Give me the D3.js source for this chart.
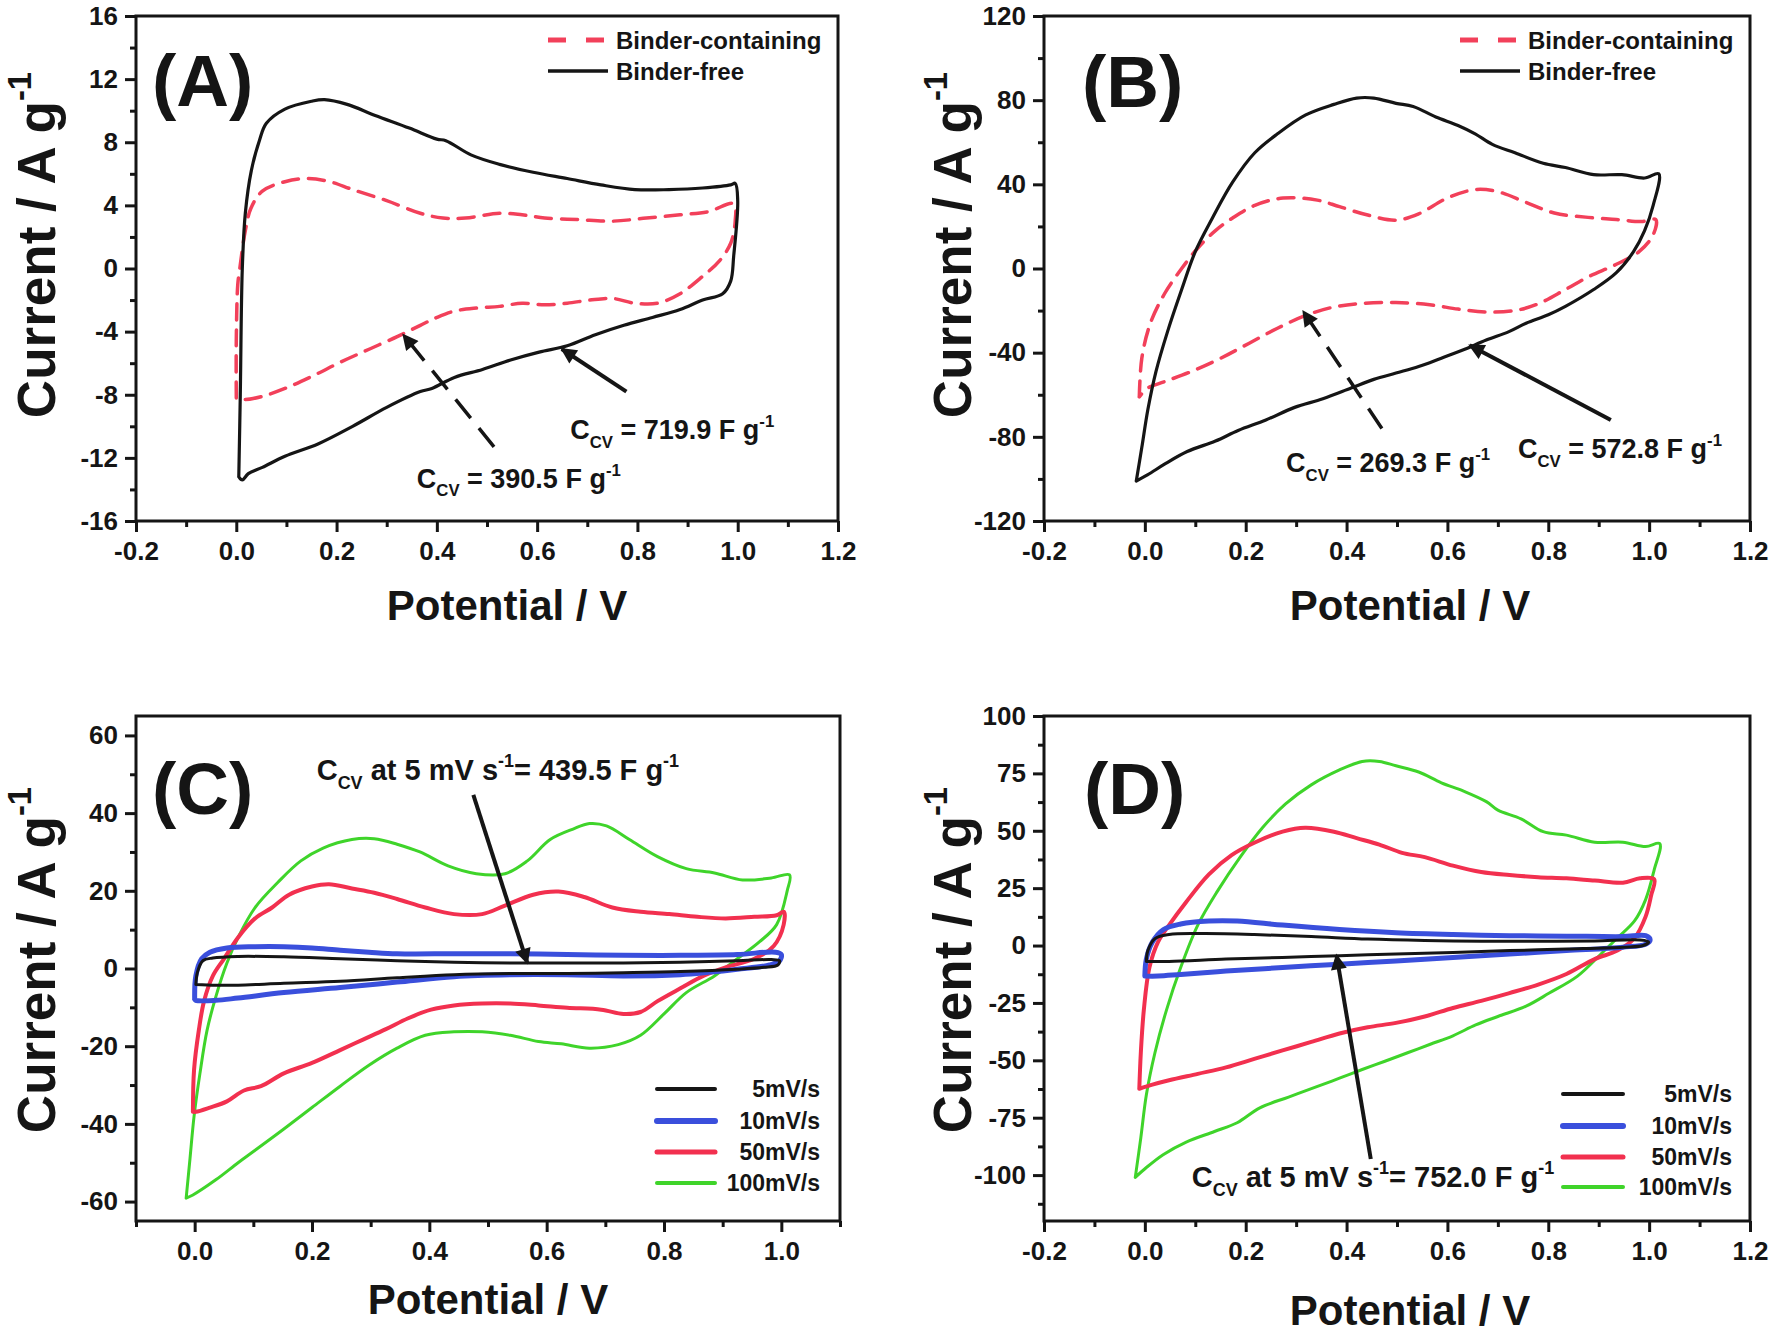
<!DOCTYPE html>
<html lang="en">
<head>
<meta charset="utf-8">
<title>CV curves</title>
<script src="https://d3js.org/d3.v7.min.js"></script>
<style>
  body { margin: 0; background: #fff; }
  svg text { font-family: "Liberation Sans", Arial, Helvetica, sans-serif; font-weight: bold; fill: #151515; }
  .frame { fill: none; stroke: #151515; stroke-width: 3; }
  .tick line { stroke: #151515; stroke-width: 3; }
  .domain { display: none; }
  .axis text { font-size: 26px; }
  .cv { fill: none; stroke-linejoin: round; stroke-linecap: round; }
</style>
</head>
<body>
<svg id="chart" width="1776" height="1338"></svg>
<script>
// ---- data: [potential (V), current (A/g)] ----
const aFree = [[0.005,-13.2],[0.008,-8],[0.012,0],[0.018,3.5],[0.03,6.2],[0.046,8.1],[0.06,9.2],[0.097,10.1],[0.15,10.6],[0.176,10.7],[0.221,10.4],[0.277,9.7],[0.345,8.9],[0.40,8.2],[0.418,8.1],[0.468,7.2],[0.525,6.6],[0.592,6.1],[0.66,5.7],[0.727,5.3],[0.795,5.0],[0.863,5.0],[0.93,5.1],[0.986,5.3],[0.995,5.4],[1.0,4.3],[0.992,0.8],[0.986,-0.8],[0.97,-1.6],[0.93,-2.0],[0.885,-2.6],[0.83,-3.1],[0.773,-3.6],[0.716,-4.2],[0.66,-4.9],[0.604,-5.3],[0.547,-5.8],[0.491,-6.4],[0.435,-6.9],[0.39,-7.6],[0.367,-7.8],[0.30,-8.8],[0.232,-10.0],[0.164,-11.1],[0.097,-11.9],[0.052,-12.6],[0.024,-13.0],[0.012,-13.4],[0.005,-13.2]];
const aBinder = [[0.0,-8.2],[0.0,-4.6],[0.003,-1],[0.007,0],[0.018,2.4],[0.029,3.8],[0.052,4.9],[0.097,5.5],[0.142,5.7],[0.187,5.5],[0.232,5.0],[0.30,4.3],[0.367,3.5],[0.412,3.2],[0.457,3.2],[0.525,3.5],[0.57,3.4],[0.615,3.2],[0.682,3.1],[0.75,3.0],[0.818,3.2],[0.885,3.4],[0.941,3.6],[0.992,4.1],[0.995,3.0],[0.986,1.6],[0.964,0.5],[0.93,-0.5],[0.885,-1.6],[0.84,-2.2],[0.795,-2.2],[0.75,-1.9],[0.705,-2.0],[0.66,-2.2],[0.615,-2.3],[0.57,-2.2],[0.525,-2.4],[0.48,-2.5],[0.435,-2.7],[0.40,-3.1],[0.367,-3.6],[0.322,-4.3],[0.266,-5.1],[0.21,-5.9],[0.153,-6.8],[0.097,-7.6],[0.052,-8.1],[0.018,-8.3],[0.0,-8.2]];

const bFree = [[-0.017,-101],[-0.006,-85],[0.006,-67],[0.022,-49],[0.045,-30],[0.073,-10],[0.10,8],[0.134,24],[0.174,41],[0.218,55],[0.263,64],[0.319,73],[0.375,78],[0.42,81],[0.454,81],[0.498,78.5],[0.532,77],[0.577,72],[0.621,68],[0.655,64],[0.689,59],[0.734,55],[0.79,50],[0.834,48],[0.89,44.6],[0.946,44.6],[0.991,43],[1.019,45],[1.008,30],[0.991,18],[0.969,8],[0.935,-2],[0.89,-10],[0.834,-18],[0.80,-22],[0.756,-26],[0.722,-30],[0.677,-34],[0.633,-38.5],[0.588,-42.6],[0.543,-46.6],[0.498,-49.7],[0.454,-52.7],[0.409,-56.8],[0.353,-61.9],[0.297,-66],[0.24,-72],[0.185,-77],[0.14,-82],[0.084,-87],[0.039,-93],[0.006,-98],[-0.017,-101]];
const bBinder = [[-0.011,-61],[-0.006,-42.6],[0.011,-26],[0.039,-12],[0.073,0],[0.106,10],[0.14,18],[0.174,24],[0.218,30],[0.274,33.5],[0.342,32.5],[0.386,29.4],[0.442,25.4],[0.498,23],[0.543,26],[0.60,33.5],[0.655,37.5],[0.70,36.5],[0.756,31.4],[0.812,26.4],[0.879,24.3],[0.935,23.3],[0.985,22.3],[1.013,23.3],[1.008,16],[0.98,8],[0.935,2],[0.879,-4],[0.834,-10],[0.778,-17],[0.733,-20],[0.677,-20.7],[0.621,-19.3],[0.565,-17.2],[0.498,-16.2],[0.431,-16.6],[0.375,-18.3],[0.319,-22.3],[0.263,-28.4],[0.207,-35.5],[0.151,-42.6],[0.095,-48.7],[0.039,-53.8],[0.006,-56.8],[-0.011,-61]];

const c5 = [[0.002,-4.1],[0.005,-0.8],[0.014,2.0],[0.031,2.7],[0.074,3.1],[0.152,3.0],[0.248,2.5],[0.345,2.0],[0.442,1.6],[0.538,1.4],[0.635,1.4],[0.731,1.4],[0.828,1.6],[0.925,2.0],[0.983,2.3],[0.997,2.0],[0.994,0.9],[0.97,0.3],[0.925,-0.2],[0.828,-0.8],[0.731,-1.1],[0.635,-1.3],[0.538,-1.3],[0.442,-1.6],[0.345,-2.4],[0.248,-3.3],[0.152,-3.8],[0.074,-4.3],[0.036,-4.3],[0.002,-4.1]];
const c10 = [[0.0,-7.9],[0.002,-1.9],[0.012,2.5],[0.026,4.2],[0.055,5.3],[0.103,5.6],[0.152,5.6],[0.20,5.3],[0.248,4.7],[0.297,4.2],[0.345,3.8],[0.442,3.8],[0.538,3.8],[0.635,3.6],[0.731,3.4],[0.828,3.4],[0.925,3.6],[0.99,4.2],[1.0,3.6],[0.997,2.0],[0.98,0.9],[0.925,-0.2],[0.876,-1.0],[0.828,-1.6],[0.731,-1.9],[0.635,-1.6],[0.538,-1.6],[0.442,-2.1],[0.345,-3.5],[0.248,-4.9],[0.152,-6.2],[0.074,-7.6],[0.036,-8.2],[0.002,-8.2],[0.0,-7.9]];
const c50 = [[-0.003,-36.9],[-0.001,-26],[0.007,-16],[0.016,-8.4],[0.031,-1.9],[0.05,2.5],[0.074,8],[0.103,12.9],[0.132,15.7],[0.161,19],[0.20,21.1],[0.229,21.7],[0.268,20.6],[0.306,19.5],[0.345,17.9],[0.393,15.7],[0.442,14],[0.49,14],[0.529,16.2],[0.577,19],[0.62,19.8],[0.664,18.4],[0.712,15.7],[0.76,14.6],[0.809,14],[0.857,13.3],[0.905,12.9],[0.954,13.3],[0.992,13.7],[1.004,14.6],[1.004,11.3],[0.987,5.8],[0.954,2.5],[0.905,0.3],[0.867,-1.9],[0.828,-5.1],[0.789,-8.4],[0.76,-11.2],[0.731,-11.7],[0.693,-10.6],[0.635,-10.1],[0.586,-9.5],[0.538,-9.0],[0.49,-9.0],[0.442,-9.5],[0.403,-10.6],[0.364,-12.8],[0.326,-15.6],[0.287,-18.3],[0.248,-21],[0.20,-24.3],[0.152,-27],[0.113,-30.3],[0.084,-31.4],[0.055,-34.2],[0.026,-35.8],[0.002,-36.9],[-0.003,-36.9]];
const c100 = [[-0.0145,-59.1],[-0.008,-49],[-0.001,-38],[0.009,-27],[0.021,-16],[0.036,-7.3],[0.055,1.4],[0.074,8],[0.103,15.7],[0.142,22.2],[0.181,27.7],[0.219,31],[0.268,33.2],[0.306,33.4],[0.345,32],[0.384,30],[0.432,26.4],[0.48,24.4],[0.529,24.4],[0.567,27.7],[0.606,33.2],[0.645,35.9],[0.673,37.3],[0.702,36.7],[0.741,33.2],[0.789,28.8],[0.838,25.7],[0.886,24.6],[0.934,22.8],[0.983,23.3],[1.014,24.1],[1.01,20],[0.992,11.3],[0.963,6.9],[0.925,2.5],[0.886,-1.9],[0.838,-6.2],[0.80,-11.7],[0.76,-17.2],[0.722,-19.6],[0.673,-20.5],[0.625,-19.4],[0.586,-18.8],[0.538,-17.2],[0.49,-16.3],[0.442,-16.3],[0.393,-17.2],[0.345,-20.5],[0.297,-24.9],[0.248,-30.3],[0.20,-35.8],[0.152,-41.3],[0.103,-46.8],[0.074,-50],[0.036,-54.4],[-0.003,-58.3],[-0.0145,-59.1]];

const d5 = [[0.003,-6.9],[0.006,-2.2],[0.02,3],[0.048,4.8],[0.116,5.2],[0.217,4.8],[0.33,3.9],[0.442,2.8],[0.555,2.2],[0.667,1.9],[0.78,1.9],[0.892,2.0],[0.982,2.4],[0.999,1.5],[0.988,0],[0.948,-0.7],[0.836,-1.5],[0.723,-2.2],[0.611,-3.0],[0.498,-3.7],[0.386,-4.4],[0.273,-5.2],[0.161,-5.9],[0.048,-6.9],[0.003,-6.9]];
const d10 = [[0.0,-13.3],[0.003,-5.9],[0.015,1.5],[0.037,7],[0.071,9.4],[0.127,10.7],[0.183,10.7],[0.273,8.9],[0.386,7],[0.498,5.6],[0.611,4.8],[0.723,4.3],[0.836,4.1],[0.948,3.9],[0.993,4.3],[1.002,2.4],[0.993,0.6],[0.948,-0.7],[0.836,-2.2],[0.723,-3.7],[0.611,-5.2],[0.498,-6.7],[0.386,-8.1],[0.273,-9.6],[0.161,-11.1],[0.071,-12.6],[0.026,-13.3],[0.0,-13.3]];
const d50 = [[-0.011,-62.4],[-0.008,-46.7],[-0.002,-28],[0.009,-9.6],[0.026,1.5],[0.048,8.9],[0.082,19],[0.127,31],[0.172,39.4],[0.217,44.8],[0.273,49.6],[0.318,51.3],[0.375,49.6],[0.42,46.8],[0.465,44],[0.51,40.4],[0.555,38.5],[0.611,34.8],[0.667,32],[0.723,30.7],[0.78,29.8],[0.836,29.3],[0.892,28.3],[0.948,27.4],[0.982,29.3],[1.01,28.9],[1.004,21.9],[0.993,12.6],[0.971,3.3],[0.937,-2.2],[0.892,-5.9],[0.836,-12.4],[0.78,-17],[0.723,-20.7],[0.667,-24.1],[0.611,-27.2],[0.555,-30.9],[0.498,-33.7],[0.442,-35.6],[0.386,-38.3],[0.33,-42],[0.273,-45.7],[0.217,-49.4],[0.161,-53.1],[0.105,-55.9],[0.048,-58.7],[0.015,-60.6],[-0.011,-62.4]];
const d100 = [[-0.019,-101],[-0.008,-83.7],[0.003,-65],[0.02,-46.7],[0.043,-28],[0.071,-9.6],[0.105,8.9],[0.144,23.7],[0.189,38.5],[0.234,51.5],[0.279,61.7],[0.33,70],[0.386,76.5],[0.431,80.2],[0.465,80.2],[0.498,78.3],[0.543,75.6],[0.588,70.9],[0.633,67.2],[0.678,62.6],[0.70,59],[0.746,55.2],[0.79,49.6],[0.836,48.1],[0.892,45],[0.948,45],[0.993,43.1],[1.021,44.4],[1.01,33],[0.993,20],[0.971,10.7],[0.937,3.3],[0.903,-4],[0.858,-13.3],[0.802,-20.7],[0.757,-26.3],[0.70,-30.9],[0.656,-34.6],[0.611,-39.3],[0.566,-43],[0.521,-46.7],[0.476,-50.4],[0.431,-54],[0.386,-57.8],[0.341,-61.5],[0.285,-66],[0.228,-70.7],[0.183,-77.2],[0.138,-81],[0.082,-85.6],[0.037,-91],[0.003,-96.7],[-0.019,-101]];

// ---- ticks ----
const xTicks = [-0.2, 0, 0.2, 0.4, 0.6, 0.8, 1.0, 1.2];
const xMinor = [-0.1, 0.1, 0.3, 0.5, 0.7, 0.9, 1.1];
const cXTicks = [0, 0.2, 0.4, 0.6, 0.8, 1.0];
const cXMinor = [-0.1, 0.1, 0.3, 0.5, 0.7, 0.9, 1.1];
const aYTicks = [-16, -12, -8, -4, 0, 4, 8, 12, 16];
const aYMinor = [-14, -10, -6, -2, 2, 6, 10, 14];
const bYTicks = [-120, -80, -40, 0, 40, 80, 120];
const bYMinor = [-100, -60, -20, 20, 60, 100];
const cYTicks = [-60, -40, -20, 0, 20, 40, 60];
const cYMinor = [-50, -30, -10, 10, 30, 50];
const dYTicks = [-100, -75, -50, -25, 0, 25, 50, 75, 100];
const dYMinor = [-112.5, -87.5, -62.5, -37.5, -12.5, 12.5, 37.5, 62.5, 87.5];

// ---- legends / annotation text ----
const abLegend = ["Binder-containing", "Binder-free"];
const rateLabels = ["5mV/s", "10mV/s", "50mV/s", "100mV/s"];
const rateColors = ["#151515", "#3a4fdc", "#f2304f", "#3fd42a"];
const rateWidths = [3, 5, 4, 3];

const RED_DASH = "#f2405a";
const svg = d3.select("#chart");

const defs = svg.append("defs");
defs.append("marker")
  .attr("id", "head")
  .attr("viewBox", "0 0 10 10")
  .attr("refX", 9).attr("refY", 5)
  .attr("markerWidth", 22).attr("markerHeight", 16)
  .attr("markerUnits", "userSpaceOnUse")
  .attr("orient", "auto")
  .append("path").attr("d", "M0,0 L10,5 L0,10 Z").attr("fill", "#151515");

// text with sub / superscripts; parts = [[string, kind]]
function rich(sel, parts, size) {
  let shift = 0;
  parts.forEach(([s, k]) => {
    const target = k === "sub" ? size * 0.32 : k === "sup" ? -size * 0.45 : 0;
    sel.append("tspan")
      .attr("dy", target - shift)
      .style("font-size", (k ? size * 0.62 : size) + "px")
      .text(s);
    shift = target;
  });
  return sel;
}

const panels = [
  { id: "A", left: 136, right: 838, top: 16, bottom: 521, xDomain: [-0.2, 1.2], yDomain: [-16, 16],
    xT: xTicks, xM: xMinor, yT: aYTicks, yM: aYMinor,
    label: [152, 106], xTitle: [507, 620], yTitle: [55, 245],
    series: [{ d: aBinder, c: RED_DASH, w: 3.5, dash: "16,10" }, { d: aFree, c: "#151515", w: 3.2 }],
    arrows: [{ from: [0.778, -7.8], to: [0.649, -5.1] }, { from: [0.514, -11.3], to: [0.333, -4.2], dash: true }],
    notes: [{ at: [0.666, -10.8], v: "719.9" }, { at: [0.36, -13.9], v: "390.5" }] },
  { id: "B", left: 1044, right: 1750, top: 16, bottom: 521, xDomain: [-0.2, 1.2], yDomain: [-120, 120],
    xT: xTicks, xM: xMinor, yT: bYTicks, yM: bYMinor,
    label: [1082, 107], xTitle: [1410, 620], yTitle: [971, 245],
    series: [{ d: bBinder, c: RED_DASH, w: 3.5, dash: "16,10" }, { d: bFree, c: "#151515", w: 3.2 }],
    arrows: [{ from: [0.924, -72], to: [0.644, -36.5] }, { from: [0.47, -76], to: [0.314, -20.3], dash: true }],
    notes: [{ at: [0.28, -96.7], v: "269.3" }, { at: [0.74, -90], v: "572.8" }] },
  { id: "C", left: 136, right: 840, top: 716, bottom: 1221, xDomain: [-0.1, 1.1], yDomain: [-65, 65],
    xT: cXTicks, xM: cXMinor, yT: cYTicks, yM: cYMinor,
    label: [152, 814], xTitle: [488, 1314], yTitle: [55, 960],
    series: [c100, c50, c10, c5].map((d, i) => ({ d, c: rateColors[3 - i], w: rateWidths[3 - i] })),
    arrows: [{ from: [0.475, 44.7], to: [0.567, 1.4] }],
    rateNote: { at: [0.208, 48.5], v: "439.5" },
    legend: { x1: 657, x2: 715, tx: 820, ys: [1089, 1121, 1152, 1183] } },
  { id: "D", left: 1044, right: 1750, top: 716, bottom: 1221, xDomain: [-0.2, 1.2], yDomain: [-120, 100],
    xT: xTicks, xM: xMinor, yT: dYTicks, yM: dYMinor,
    label: [1084, 814], xTitle: [1410, 1325], yTitle: [971, 960],
    series: [d100, d50, d10, d5].map((d, i) => ({ d, c: rateColors[3 - i], w: rateWidths[3 - i] })),
    arrows: [{ from: [0.448, -93], to: [0.38, -4.1] }],
    rateNote: { at: [0.093, -105.2], v: "752.0" },
    legend: { x1: 1563, x2: 1623, tx: 1732, ys: [1094, 1126, 1157, 1187] } }
];

panels.forEach(p => {
  const g = svg.append("g");
  const x = d3.scaleLinear().domain(p.xDomain).range([p.left, p.right]);
  const y = d3.scaleLinear().domain(p.yDomain).range([p.bottom, p.top]);

  // minor ticks
  g.append("g").attr("transform", `translate(0,${p.bottom})`)
    .call(d3.axisBottom(x).tickValues(p.xM).tickSize(6).tickSizeOuter(0).tickFormat(""));
  g.append("g").attr("transform", `translate(${p.left},0)`)
    .call(d3.axisLeft(y).tickValues(p.yM).tickSize(6).tickSizeOuter(0).tickFormat(""));
  // major ticks
  g.append("g").attr("class", "axis").attr("transform", `translate(0,${p.bottom})`)
    .call(d3.axisBottom(x).tickValues(p.xT).tickSize(11).tickSizeOuter(0).tickPadding(10).tickFormat(d => d.toFixed(1)));
  g.append("g").attr("class", "axis").attr("transform", `translate(${p.left},0)`)
    .call(d3.axisLeft(y).tickValues(p.yT).tickSize(11).tickSizeOuter(0).tickPadding(7).tickFormat(d => String(d)));

  g.append("rect").attr("class", "frame")
    .attr("x", p.left).attr("y", p.top)
    .attr("width", p.right - p.left).attr("height", p.bottom - p.top);

  const line = d3.line().x(d => x(d[0])).y(d => y(d[1])).curve(d3.curveCatmullRom.alpha(0.5));
  p.series.forEach(s => {
    g.append("path").attr("class", "cv")
      .attr("d", line(s.d))
      .attr("stroke", s.c).attr("stroke-width", s.w)
      .attr("stroke-dasharray", s.dash || null)
      .attr("stroke-linecap", s.dash ? "butt" : "round");
  });

  p.arrows.forEach(a => {
    g.append("line")
      .attr("x1", x(a.from[0])).attr("y1", y(a.from[1]))
      .attr("x2", x(a.to[0])).attr("y2", y(a.to[1]))
      .attr("stroke", "#151515").attr("stroke-width", a.dash ? 3.5 : 4)
      .attr("stroke-dasharray", a.dash ? "24,13" : null)
      .attr("marker-end", "url(#head)");
  });

  if (p.notes) {
    p.notes.forEach(n => {
      const t = g.append("text").attr("x", x(n.at[0])).attr("y", y(n.at[1]));
      rich(t, [["C"], ["CV", "sub"], [" = " + n.v + " F g"], ["-1", "sup"]], 27);
    });
    // legend
    const lx1 = p.right - 290, lx2 = p.right - 230, tx = p.right - 222;
    const ly = [p.top + 24, p.top + 55];
    g.append("line").attr("x1", lx1).attr("x2", lx1 + 18).attr("y1", ly[0]).attr("y2", ly[0])
      .attr("stroke", RED_DASH).attr("stroke-width", 5);
    g.append("line").attr("x1", lx1 + 38).attr("x2", lx1 + 56).attr("y1", ly[0]).attr("y2", ly[0])
      .attr("stroke", RED_DASH).attr("stroke-width", 5);
    g.append("line").attr("x1", lx1).attr("x2", lx2).attr("y1", ly[1]).attr("y2", ly[1])
      .attr("stroke", "#151515").attr("stroke-width", 3.5);
    abLegend.forEach((s, i) => {
      g.append("text").attr("x", tx).attr("y", ly[i]).attr("dy", "0.36em")
        .style("font-size", "24px").text(s);
    });
  }

  if (p.rateNote) {
    const t = g.append("text").attr("x", x(p.rateNote.at[0])).attr("y", y(p.rateNote.at[1]));
    rich(t, [["C"], ["CV", "sub"], [" at 5 mV s"], ["-1", "sup"], ["= " + p.rateNote.v + " F g"], ["-1", "sup"]], 29);
    rateLabels.forEach((s, i) => {
      g.append("line")
        .attr("x1", p.legend.x1).attr("x2", p.legend.x2)
        .attr("y1", p.legend.ys[i]).attr("y2", p.legend.ys[i])
        .attr("stroke", rateColors[i]).attr("stroke-width", rateWidths[i] + 1)
        .attr("stroke-linecap", "round");
      g.append("text").attr("x", p.legend.tx).attr("y", p.legend.ys[i]).attr("dy", "0.36em")
        .attr("text-anchor", "end").style("font-size", "23px").text(s);
    });
  }

  // panel label, axis titles
  g.append("text").attr("x", p.label[0]).attr("y", p.label[1])
    .style("font-size", "73px").text("(" + p.id + ")");
  g.append("text").attr("x", p.xTitle[0]).attr("y", p.xTitle[1])
    .attr("text-anchor", "middle").style("font-size", "42px").text("Potential / V");
  const yt = g.append("text").attr("text-anchor", "middle")
    .attr("transform", `translate(${p.yTitle[0]},${p.yTitle[1]}) rotate(-90)`);
  rich(yt, [["Current / A g"], ["-1", "sup"]], 53);
});
</script>
</body>
</html>
